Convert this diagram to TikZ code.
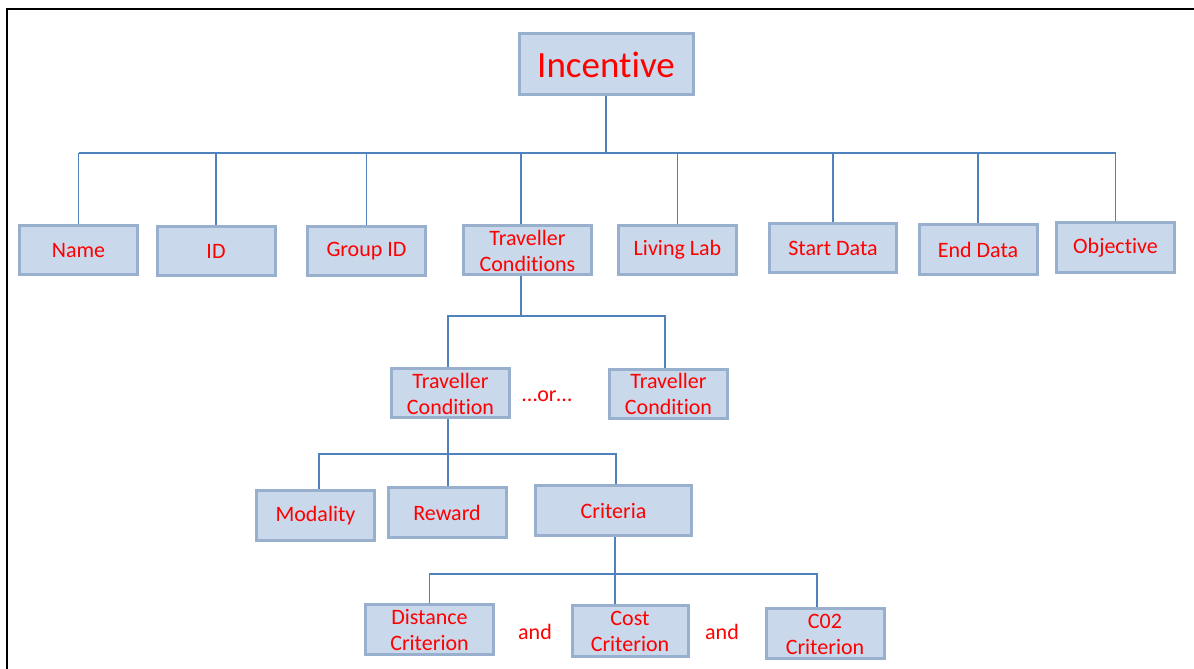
\documentclass[tikz,border=0pt]{standalone}
\usepackage{fontspec}
\setmainfont[RawFeature={-liga;-clig;-calt;-dlig}]{Carlito}
\definecolor{boxfill}{RGB}{202,216,235}
\definecolor{boxline}{RGB}{152,175,205}
\definecolor{linkblue}{RGB}{79,129,189}
\definecolor{txtred}{RGB}{255,0,0}

\begin{document}
\begin{tikzpicture}[x=1pt, y=1pt,
  box/.style={draw=boxline, line width=3pt, fill=boxfill, text=txtred,
    font=\fontsize{22}{26}\selectfont, align=center, inner sep=0pt,
    minimum width=118, minimum height=49},
  link/.style={draw=linkblue, line width=1.4pt},
  word/.style={text=txtred, font=\fontsize{22}{26}\selectfont}]
\useasboundingbox (0,0) rectangle (1194,669);

% Frame
\draw[line width=2pt] (7,0) -- (7,660) -- (1194,660);

% Root
\node[box, minimum width=174, minimum height=61, font=\fontsize{37}{44}\selectfont] (incentive) at (606,604.5) {Incentive};

% Attributes
\node[box] (name) at (78.5,418.5) {Name};
\node[box] (id) at (216,418) {ID};
\node[box] (groupid) at (366.5,417.5) {Group ID};
\node[box, minimum width=128] (travcond) at (527.5,418.5) {Traveller\\Conditions};
\node[box] (livinglab) at (677.5,419) {Living Lab};
\node[box, minimum width=127] (startdata) at (833,421) {Start Data};
\node[box, minimum height=50] (enddata) at (978,419) {End Data};
\node[box, minimum height=50] (objective) at (1115.5,421) {Objective};

% Traveller conditions
\node[box] (cond1) at (450.5,275.5) {Traveller\\Condition};
\node[box] (cond2) at (668.5,275) {Traveller\\Condition};
\node[word] (or) at (547,273) {…or…};

% Condition parts
\node[box, minimum height=50] (modality) at (315.5,153) {Modality};
\node[box, minimum height=50] (reward) at (447,156) {Reward};
\node[box, minimum width=156, minimum height=50] (criteria) at (613.5,158) {Criteria};

% Criteria
\node[box, minimum width=128, minimum height=50] (distance) at (429.5,39) {Distance\\Criterion};
\node[box, minimum width=116, minimum height=51] (cost) at (630,37.5) {Cost\\Criterion};
\node[box, minimum height=50] (co2) at (825,35) {C02\\Criterion};
\node[word] (and1) at (535,37) {and};
\node[word] (and2) at (722,37) {and};

% Links
\coordinate (bus) at (606,516);
\draw[link] (incentive.south) -- (incentive.south |- bus);
\draw[link] (name.north |- bus) -- (objective.north |- bus);
\foreach \n in {name,id,groupid,livinglab,startdata,enddata,objective}
  \draw[link] (\n.north |- bus) -- (\n.north);
\draw[link] ([xshift=-6.5]travcond.north) -- ([xshift=-6.5]travcond.north |- bus);

\coordinate (split) at (521,353);
\draw[link] ([xshift=-6.5]travcond.south) -- ([xshift=-6.5]travcond.south |- split);
\draw[link] ([xshift=-2.5]cond1.north) |- (split) -| ([xshift=-3.5]cond2.north);

\coordinate (fork) at (448,215);
\draw[link] ([xshift=-2.5]cond1.south) -- ([xshift=-2.5]cond1.south |- reward.north);
\draw[link] ([xshift=3.5]modality.north) |- (fork) -| ([xshift=2.5]criteria.north);

\coordinate (join) at (615,95);
\draw[link] ([xshift=1.5]criteria.south) -- ([xshift=1.5]criteria.south |- cost.north);
\draw[link] (distance.north) |- (join) -| ([xshift=-8]co2.north);
\end{tikzpicture}
\end{document}
